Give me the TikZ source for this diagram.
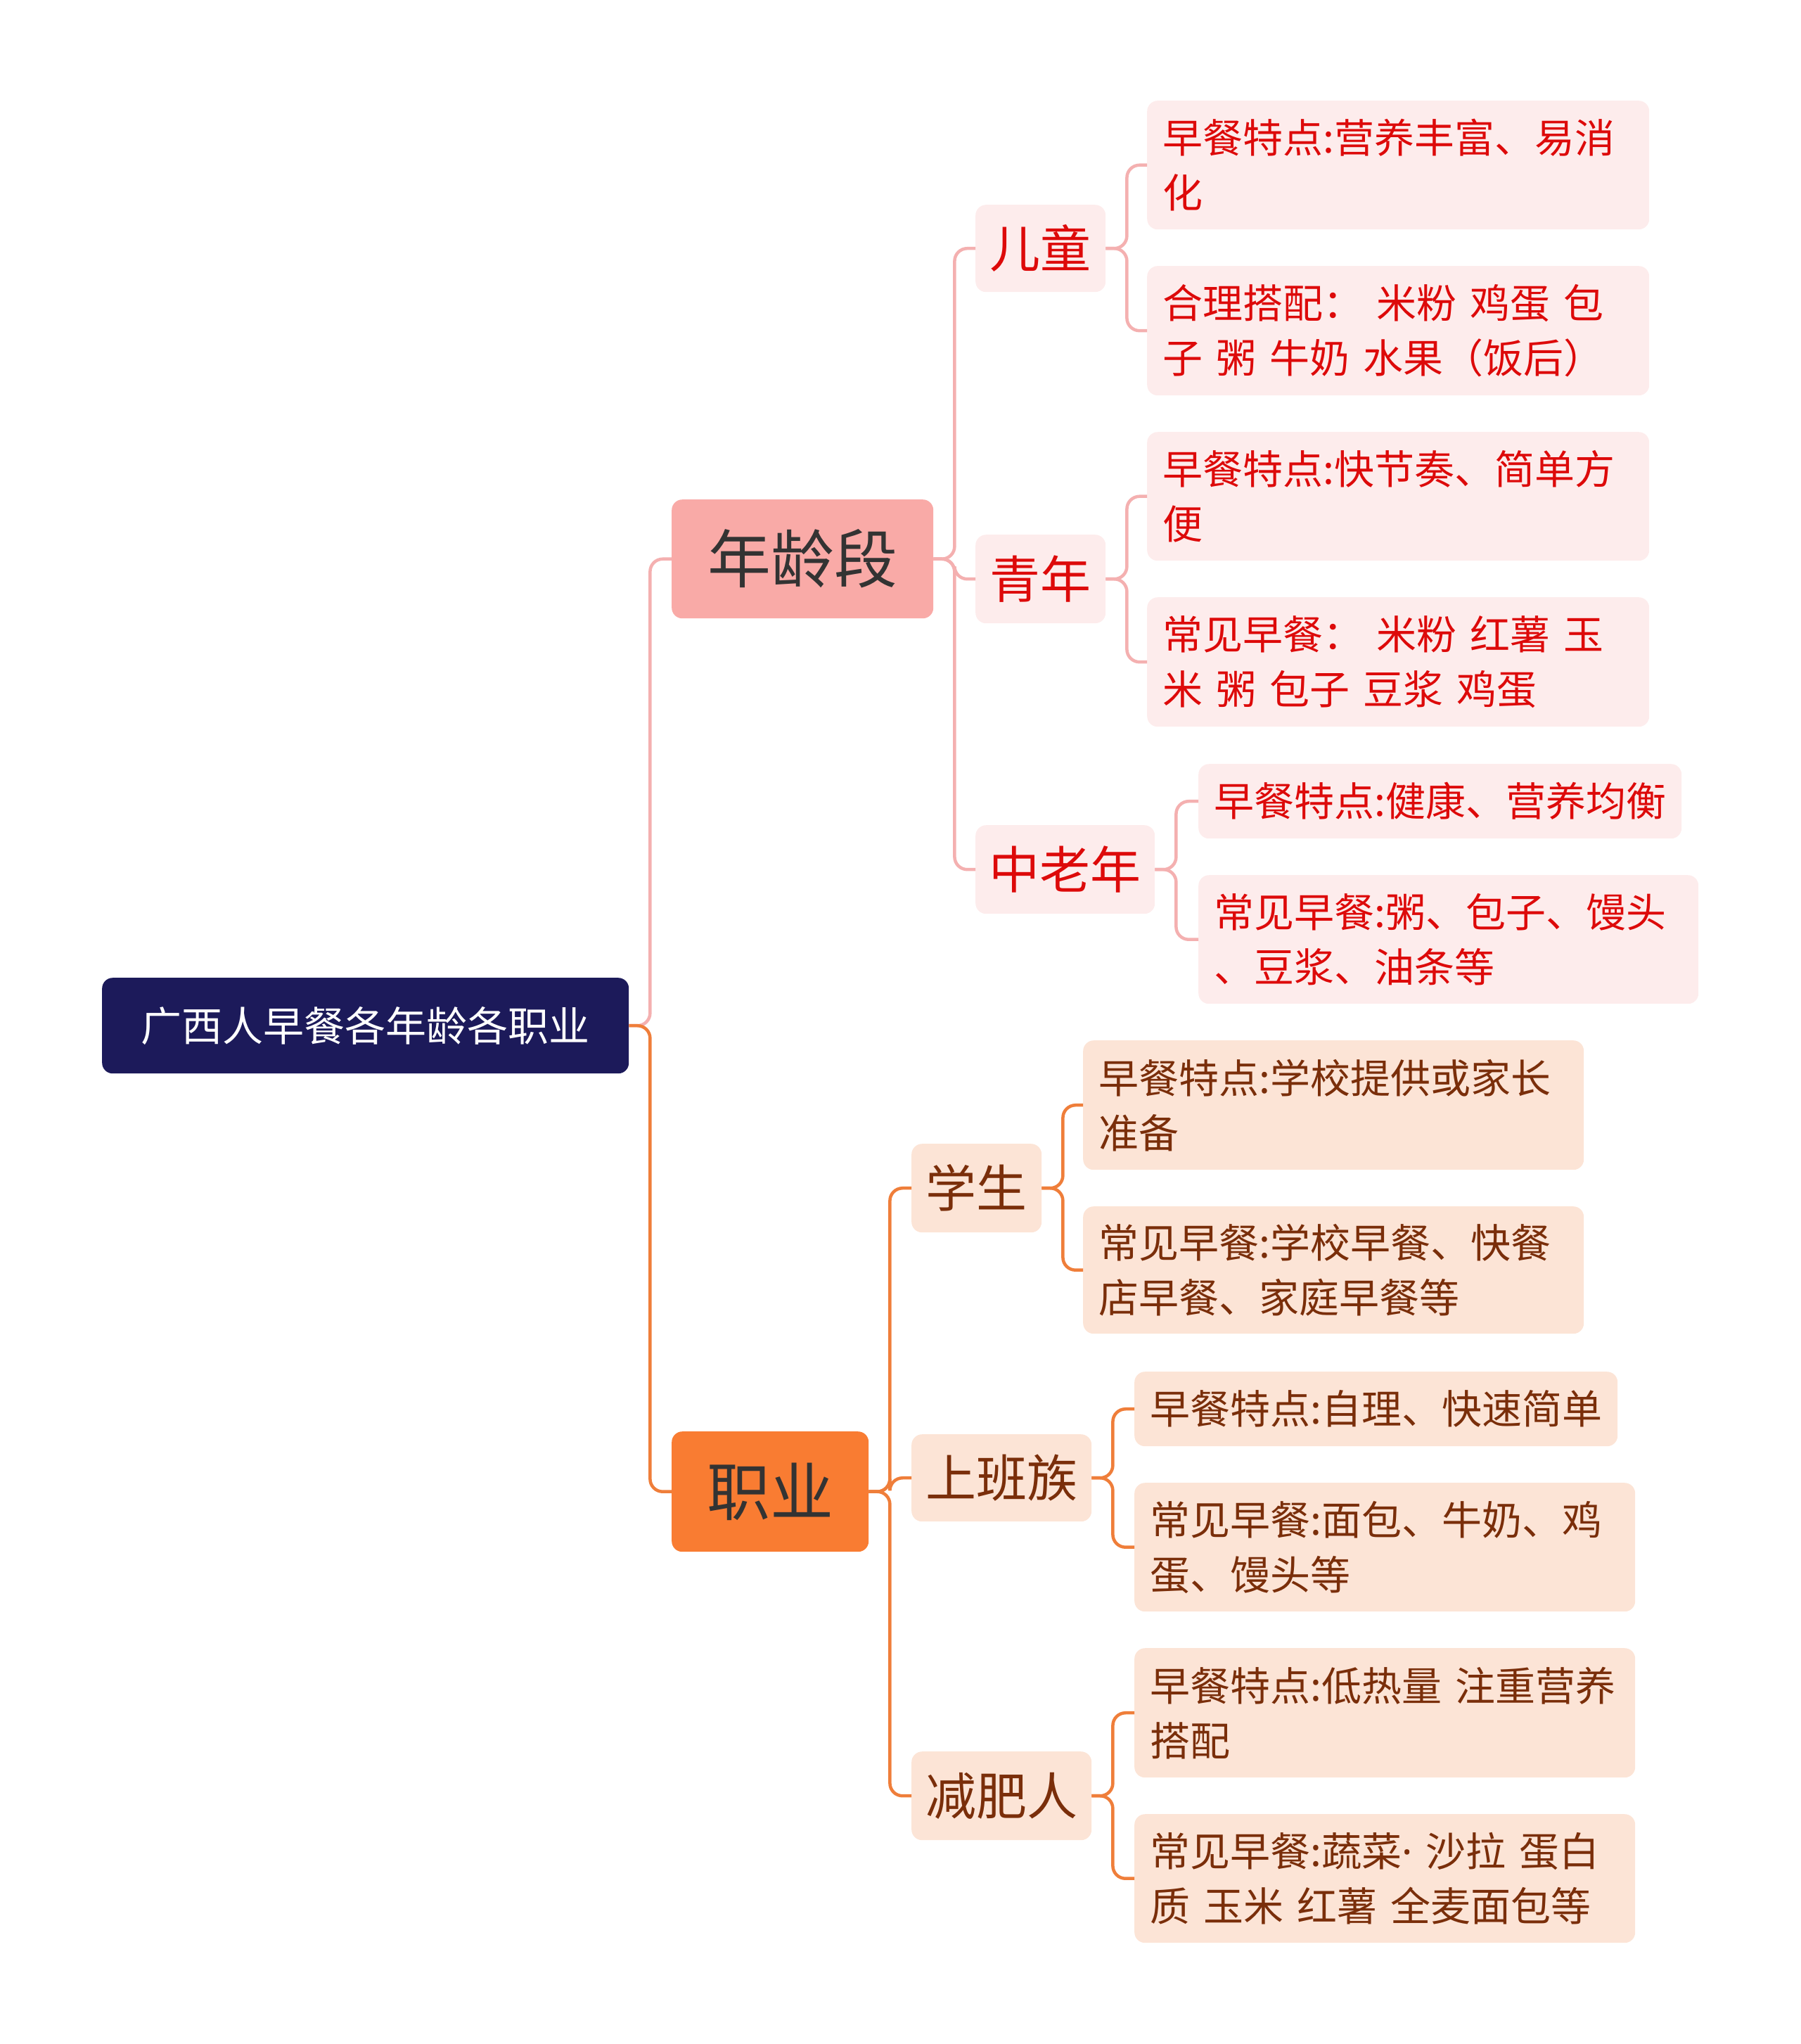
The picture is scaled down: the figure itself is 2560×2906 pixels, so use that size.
\documentclass[tikz,border=0pt]{standalone}
\usepackage{fontspec}
\setmainfont{Noto Sans CJK SC}
\newfontfamily\latinfont{Noto Sans}
\definecolor{rootfill}{HTML}{1C1A5A}
\definecolor{agefill}{HTML}{F9AAA7}
\definecolor{jobfill}{HTML}{F97C32}
\definecolor{pinklight}{HTML}{FDECEC}
\definecolor{peachlight}{HTML}{FCE4D6}
\definecolor{redtext}{HTML}{DD0A0A}
\definecolor{browntext}{HTML}{7A2E0A}
\definecolor{darktext}{HTML}{333333}
\definecolor{pinkline}{HTML}{F4B0B0}
\definecolor{orangeline}{HTML}{EF7E3A}
\begin{document}
\begin{tikzpicture}[x=1pt,y=-1pt,
  box/.style={rounded corners=15pt, inner sep=0pt, anchor=north west},
  rootbox/.style={box, fill=rootfill, text=white, font=\fontsize{58}{70}\selectfont},
  agebox/.style={box, fill=agefill, text=darktext, font=\fontsize{90}{100}\selectfont},
  jobbox/.style={box, fill=jobfill, text=darktext, font=\fontsize{90}{100}\selectfont},
  midpink/.style={box, fill=pinklight, text=redtext, font=\fontsize{72}{80}\selectfont},
  midpeach/.style={box, fill=peachlight, text=browntext, font=\fontsize{72}{80}\selectfont},
  leafpink/.style={box, fill=pinklight, text=redtext, font=\fontsize{57}{78}\selectfont, align=left, inner xsep=22pt},
  leafpeach/.style={box, fill=peachlight, text=browntext, font=\fontsize{57}{78}\selectfont, align=left, inner xsep=22pt},
  pinkconn/.style={draw=pinkline, line width=4.5pt, rounded corners=18pt},
  orangeconn/.style={draw=orangeline, line width=4.5pt, rounded corners=18pt}]
\useasboundingbox (0,0) rectangle (2560,2906);

% root and first level
\node[rootbox, minimum width=749pt, minimum height=136pt] (root) at (145,1390) {广西人早餐各年龄各职业};
\node[agebox, minimum width=372pt, minimum height=169pt] (age) at (955,710) {年龄段};
\node[jobbox, minimum width=280pt, minimum height=171pt] (job) at (955,2035) {职业};

% second level
\node[midpink, minimum width=185pt, minimum height=124pt] (child) at (1387,291) {儿童};
\node[midpink, minimum width=185pt, minimum height=126pt] (youth) at (1387,760) {青年};
\node[midpink, minimum width=255pt, minimum height=126pt] (elder) at (1387,1173) {中老年};
\node[midpeach, minimum width=185pt, minimum height=126pt] (stud) at (1296,1626) {学生};
\node[midpeach, minimum width=256pt, minimum height=124pt] (work) at (1296,2039) {上班族};
\node[midpeach, minimum width=256pt, minimum height=126pt] (diet) at (1296,2490) {减肥人};

% leaves
\node[leafpink, text width=670pt, minimum height=183pt] (c1) at (1631,143) {\mbox{早餐特点:营养丰富、易消}\\化};
\node[leafpink, text width=670pt, minimum height=184pt] (c2) at (1631,378) {\mbox{合理搭配： 米粉 鸡蛋 包}\\\mbox{子 粥 牛奶 水果（饭后）}};
\node[leafpink, text width=670pt, minimum height=183pt] (y1) at (1631,614) {\mbox{早餐特点:快节奏、简单方}\\便};
\node[leafpink, text width=670pt, minimum height=184pt] (y2) at (1631,849) {\mbox{常见早餐： 米粉 红薯 玉}\\\mbox{米 粥 包子 豆浆 鸡蛋}};
\node[leafpink, text width=643pt, minimum height=106pt] (e1) at (1704,1086) {\mbox{早餐特点:健康、营养均衡}};
\node[leafpink, text width=667pt, minimum height=183pt] (e2) at (1704,1244) {\mbox{常见早餐:粥、包子、馒头}\\\mbox{、豆浆、油条等}};
\node[leafpeach, text width=668pt, minimum height=184pt] (s1) at (1540,1479) {\mbox{早餐特点:学校提供或家长}\\准备};
\node[leafpeach, text width=668pt, minimum height=181pt] (s2) at (1540,1715) {\mbox{常见早餐:学校早餐、快餐}\\\mbox{店早餐、家庭早餐等}};
\node[leafpeach, text width=643pt, minimum height=106pt] (w1) at (1613,1950) {\mbox{早餐特点:自理、快速简单}};
\node[leafpeach, text width=668pt, minimum height=183pt] (w2) at (1613,2108) {\mbox{常见早餐:面包、牛奶、鸡}\\\mbox{蛋、馒头等}};
\node[leafpeach, text width=668pt, minimum height=184pt] (d1) at (1613,2343) {\mbox{早餐特点:低热量 注重营养}\\搭配};
\node[leafpeach, text width=668pt, minimum height=183pt] (d2) at (1613,2579) {\mbox{常见早餐:蔬菜{\latinfont ·} 沙拉 蛋白}\\\mbox{质 玉米 红薯 全麦面包等}};

% connectors
\draw[pinkconn] (root.east) -- ++(30,0) |- (age.west);
\draw[orangeconn] (root.east) -- ++(30,0) |- (job.west);

\draw[pinkconn] (age.east) -- ++(30,0) |- (child.west);
\draw[pinkconn] (age.east) -- ++(30,0) |- (youth.west);
\draw[pinkconn] (age.east) -- ++(30,0) |- (elder.west);

\draw[pinkconn] (child.east) -- ++(30,0) |- (c1.west);
\draw[pinkconn] (child.east) -- ++(30,0) |- (c2.west);
\draw[pinkconn] (youth.east) -- ++(30,0) |- (y1.west);
\draw[pinkconn] (youth.east) -- ++(30,0) |- (y2.west);
\draw[pinkconn] (elder.east) -- ++(30,0) |- (e1.west);
\draw[pinkconn] (elder.east) -- ++(30,0) |- (e2.west);

\draw[orangeconn] (job.east) -- ++(30,0) |- (stud.west);
\draw[orangeconn] (job.east) -- ++(30,0) |- (work.west);
\draw[orangeconn] (job.east) -- ++(30,0) |- (diet.west);

\draw[orangeconn] (stud.east) -- ++(30,0) |- (s1.west);
\draw[orangeconn] (stud.east) -- ++(30,0) |- (s2.west);
\draw[orangeconn] (work.east) -- ++(30,0) |- (w1.west);
\draw[orangeconn] (work.east) -- ++(30,0) |- (w2.west);
\draw[orangeconn] (diet.east) -- ++(30,0) |- (d1.west);
\draw[orangeconn] (diet.east) -- ++(30,0) |- (d2.west);
\end{tikzpicture}
\end{document}
